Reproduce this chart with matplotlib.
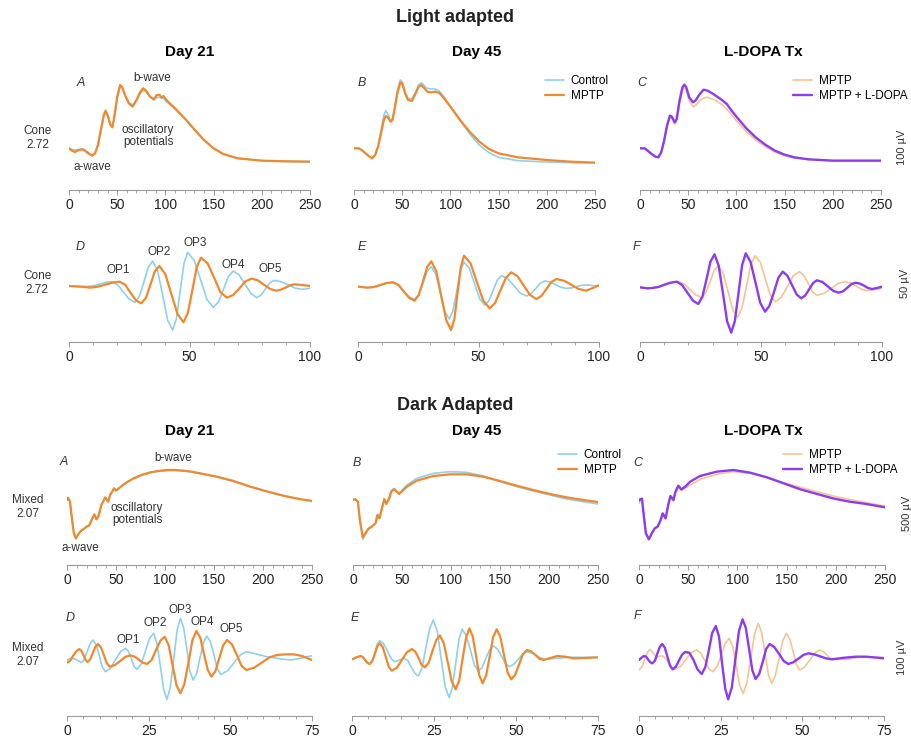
import matplotlib
matplotlib.use("Agg")
import matplotlib.pyplot as plt
from matplotlib.ticker import MultipleLocator

plt.rcParams['font.family'] = ['Liberation Sans', 'DejaVu Sans']

# colours
BLUE = '#8fd0ec'
ORANGE = '#f0892e'
PALE = '#f6c493'
PURPLE = '#8b3cf0'

# ---- Light adapted, full ERG (time ms, amplitude) ----
la_a_t = [0, 3, 6, 10, 14, 17, 20, 24, 27, 30, 33, 36, 38, 40, 43, 45, 47, 50, 53, 55, 58, 62, 66, 70, 74, 77, 80, 84,
          88, 91, 94, 96, 98, 101, 110, 120, 130, 140, 150, 160, 175, 200, 225, 250]
la_a_mptp = [0, -7, -11, -5, -3, -8, -15, -22, -15, 10, 55, 100, 113, 100, 70, 63, 95, 155, 190, 185, 160, 135, 125, 145,
             170, 180, 173, 155, 147, 160, 160, 153, 157, 145, 120, 90, 57, 25, 0, -17, -30, -37, -39, -40]
la_a_ctrl = [0, -3, -5, -4, -2, -6, -13, -20, -14, 8, 50, 93, 105, 97, 72, 65, 92, 150, 185, 182, 162, 138, 130, 145,
             165, 175, 170, 155, 145, 152, 153, 150, 150, 140, 118, 90, 57, 25, 0, -17, -30, -37, -39, -40]

la_b_t = [0, 5, 8, 12, 16, 19, 22, 25, 28, 31, 33, 35, 38, 40, 42, 45, 48, 50, 53, 56, 60, 64, 67, 70, 73, 76, 80, 84, 88,
          92, 100, 110, 120, 130, 140, 150, 170, 200, 225, 250]
la_b_mptp = [0, 0, -5, -15, -25, -30, -20, 5, 45, 85, 97, 93, 80, 85, 115, 165, 197, 195, 165, 145, 142, 165, 185, 190,
             180, 170, 168, 170, 167, 155, 125, 85, 50, 20, -2, -15, -27, -35, -40, -43]
la_b_ctrl = [0, 0, -5, -15, -25, -30, -18, 7, 55, 100, 113, 103, 83, 90, 120, 175, 205, 200, 170, 150, 148, 170, 190, 197,
             187, 180, 178, 178, 173, 160, 127, 85, 43, 10, -13, -27, -37, -41, -43, -43]

la_c_t = [0, 5, 8, 12, 16, 19, 22, 25, 28, 31, 33, 36, 38, 41, 44, 46, 48, 51, 55, 58, 62, 66, 70, 75, 80, 85, 90, 95, 100,
          110, 120, 130, 140, 150, 160, 175, 200, 225, 250]
la_c_ldopa = [0, 0, -7, -17, -25, -27, -12, 23, 68, 98, 95, 78, 88, 143, 183, 191, 183, 153, 138, 145, 163, 176, 173, 165,
              155, 145, 133, 113, 95, 61, 33, 11, -7, -19, -27, -33, -37, -37, -37]
la_c_mptp = [0, 0, -7, -17, -25, -27, -13, 21, 63, 93, 91, 73, 81, 133, 173, 181, 175, 143, 125, 130, 143, 151, 153, 148,
             141, 131, 118, 101, 83, 51, 25, 5, -11, -22, -29, -34, -37, -37, -37]

# ---- Light adapted, oscillatory potentials ----
lo_d_mptp_t = [0, 5, 9, 12, 15, 18, 21, 23.3, 25.5, 27.8, 30, 31.9, 33.8, 35.6, 37.5, 40, 42.5, 45, 47.5, 49.3, 51.2, 53,
               54.8, 57.5, 60.2, 62.8, 65.5, 68.1, 70.7, 73.2, 75.8, 78.4, 80.9, 83.5, 86, 87.9, 89.8, 91.6, 93.5, 96.8,
               100]
lo_d_mptp = [0, -2, -5, -2, 4, 10, 13, 4, -20, -43, -52, -36, 4, 44, 60, 35, -25, -84, -109, -81, -12, 57, 85, 68, 25,
             -18, -35, -27, -7, 14, 22, 17, 4, -9, -14, -11, -5, 2, 5, 3, 0]
lo_d_ctrl_t = [0, 5, 8, 10.4, 12.9, 15.3, 17.7, 20.1, 22.6, 25, 27.4, 29.2, 31.1, 32.9, 34.7, 36.8, 38.9, 40.9, 43, 44.6,
               46.1, 47.7, 49.2, 51.9, 54.6, 57.2, 59.9, 62, 64.1, 66.1, 68.2, 70.6, 73.1, 75.5, 77.9, 79.7, 81.5, 83.3,
               85.1, 88, 90.8, 93.7, 96.5, 100]
lo_d_ctrl = [0, -2, -1, 1, 6, 11, 13, 4, -18, -40, -49, -31, 13, 57, 75, 45, -29, -102, -132, -98, -16, 67, 101, 77, 19,
             -40, -64, -48, -10, 29, 45, 33, 5, -23, -35, -27, -9, 9, 17, 13, 4, -6, -10, -7]

lo_e_mptp_t = [0, 4, 6.6, 9.3, 11.9, 14.5, 16.8, 19, 21.3, 23.5, 25.2, 27, 28.7, 30.4, 32.5, 34.5, 36.6, 38.6, 40, 41.3,
               42.7, 44, 46.7, 49.3, 52, 54.6, 56.9, 59.1, 61.4, 63.6, 66.2, 68.8, 71.4, 74, 76.1, 78.2, 80.2, 82.3, 85.4,
               88.5, 91.6, 94.7, 97.4, 100]
lo_e_mptp = [0, -3, -1, 5, 11, 13, 5, -15, -34, -42, -25, 17, 59, 76, 46, -27, -100, -130, -97, -19, 60, 93, 70, 14,
             -42, -65, -49, -11, 27, 43, 31, 3, -25, -37, -28, -7, 14, 23, 18, 6, -7, -12, -4, 4]
lo_e_ctrl_t = [0, 4, 6.6, 9.3, 11.9, 14.5, 16.8, 19, 21.3, 23.5, 25.2, 27, 28.7, 30.4, 32.3, 34.2, 36, 37.9, 39.4, 41,
               42.5, 44, 46.2, 48.3, 50.5, 52.6, 54.3, 56.1, 57.8, 59.5, 62.1, 64.7, 67.3, 69.9, 71.8, 73.7, 75.6, 77.5,
               79.7, 82, 84.2, 86.4, 88.5, 90.6, 92.6, 94.7, 100]
lo_e_ctrl = [0, -3, -1, 5, 11, 13, 6, -13, -31, -38, -24, 11, 46, 60, 37, -19, -74, -97, -72, -12, 49, 74, 55, 10, -36,
             -55, -42, -11, 20, 33, 24, 3, -19, -28, -21, -6, 10, 17, 14, 6, -2, -5, -4, 0, 4, 5, 2]

lo_f_ldopa_t = [0, 3, 5, 7.6, 10.1, 12.7, 15.2, 17.4, 19.7, 21.9, 24.1, 25.8, 27.5, 29.1, 30.8, 32.5, 34.3, 36, 37.7,
                39.2, 40.7, 42.2, 43.7, 45.7, 47.7, 49.7, 51.7, 53.5, 55.4, 57.2, 59, 60.9, 62.8, 64.7, 66.6, 68.2, 69.9,
                71.5, 73.1, 75.4, 77.6, 79.9, 82.1, 83.9, 85.7, 87.4, 89.2, 90.9, 92.6, 94.2, 95.9, 98, 100]
lo_f_ldopa = [-2, -5, -4, -1, 6, 12, 15, 5, -19, -42, -52, -30, 23, 75, 97, 63, -21, -104, -138, -103, -19, 65, 100, 74,
              13, -49, -75, -57, -15, 27, 45, 33, 5, -23, -35, -27, -8, 11, 19, 14, 1, -13, -18, -14, -3, 8, 12, 9, 3,
              -4, -7, -4, 0]
lo_f_mptp_t = [0, 3, 5, 7.7, 10.5, 13.2, 15.9, 18.3, 20.7, 23.1, 25.5, 27.2, 29, 30.7, 32.4, 34.4, 36.4, 38.3, 40.3,
               42.1, 44, 45.8, 47.6, 49.7, 51.8, 53.8, 55.9, 58.4, 60.9, 63.3, 65.8, 67.6, 69.5, 71.3, 73.1, 76, 78.9,
               81.7, 84.6, 86.9, 89.2, 91.5, 93.8, 96.9, 100]
lo_f_mptp = [-2, -5, -4, -1, 6, 12, 15, 8, -9, -25, -32, -18, 16, 49, 63, 40, -15, -69, -92, -65, 1, 66, 93, 73, 24,
             -25, -45, -32, 0, 32, 45, 35, 10, -16, -26, -20, -6, 9, 15, 11, 2, -8, -12, -9, -5]

# ---- Dark adapted, full ERG ----
da_a_t = [0, 1, 3, 5, 7, 9, 11, 14, 18, 20, 23, 25, 28, 30, 32, 35, 39, 42, 44, 48, 50, 53, 57, 62, 68, 76, 85, 93, 102,
          110, 119, 127, 136, 153, 170, 187, 205, 222, 239, 250]
da_a_mptp = [0, 7, -5, -55, -100, -115, -105, -93, -85, -80, -75, -60, -43, -58, -50, -15, 8, -5, 15, 35, 28, 35, 45, 55,
             65, 75, 83, 87, 90, 90, 88, 85, 80, 70, 57, 40, 25, 12, 2, -3]
da_a_ctrl = [0, 7, -5, -55, -100, -116, -106, -93, -85, -80, -75, -60, -44, -58, -50, -16, 7, -5, 14, 34, 28, 35, 45, 54,
             64, 74, 82, 86, 88, 89, 87, 84, 79, 69, 56, 40, 25, 12, 2, -3]

da_b_t = [0, 2, 5, 7, 10, 13, 16, 19, 23, 25, 27, 30, 32, 34, 37, 39, 42, 47, 55, 65, 82, 99, 116, 133, 150, 167, 184, 201,
          218, 235, 250]
da_b_mptp = [0, 3, -5, -60, -112, -98, -85, -80, -70, -45, -55, -20, 2, -12, 5, 25, 32, 18, 40, 58, 72, 77, 77, 70, 57,
             43, 30, 18, 8, 0, -6]
da_b_ctrl = [0, 3, -5, -62, -118, -102, -87, -80, -70, -43, -53, -18, 4, -10, 8, 28, 35, 20, 45, 65, 80, 85, 83, 72, 55,
             40, 27, 15, 3, -5, -12]

da_c_t = [0, 1, 3, 5, 7, 10, 13, 16, 19, 22, 24, 27, 30, 32, 35, 37, 40, 43, 47, 52, 62, 79, 96, 113, 130, 147, 164, 181,
          197, 214, 231, 250]
da_c_ldopa = [-2, 2, 4, -50, -100, -118, -100, -85, -80, -60, -40, -55, -10, 12, 0, 25, 43, 32, 40, 55, 72, 85, 90, 82,
              68, 50, 32, 18, 5, -5, -12, -22]
da_c_mptp = [-10, -5, 0, -52, -100, -116, -100, -85, -80, -62, -43, -56, -15, 8, -3, 20, 38, 28, 35, 45, 62, 77, 85, 80,
             68, 52, 38, 25, 12, 2, -8, -18]

# ---- Dark adapted, oscillatory potentials ----
do_d_mptp_t = [0, 1, 1.9, 2.9, 3.8, 4.4, 5.1, 5.7, 6.3, 7.1, 7.9, 8.7, 9.5, 10.4, 11.3, 12.2, 13.1, 14.7, 16.3, 17.8,
               19.4, 20.7, 22, 23.2, 24.5, 25.9, 27.2, 28.6, 29.9, 31.1, 32.3, 33.5, 34.7, 35.9, 37.2, 38.4, 39.6, 40.8,
               41.9, 43.1, 44.2, 45.4, 46.6, 47.8, 49, 50.5, 52, 53.4, 54.9, 57.3, 59.6, 62, 64.3, 67, 69.4, 72, 75]
do_d_mptp = [-8, -2, 13, 27, 33, 27, 14, 0, -6, 2, 21, 40, 48, 38, 14, -10, -20, -15, -3, 9, 14, 10, 1, -8, -12, 0, 29,
             58, 70, 45, -15, -75, -100, -73, -7, 60, 87, 67, 19, -30, -50, -34, 5, 44, 60, 47, 15, -17, -30, -23, -8, 8,
             15, 17, 17, 12, 0]
do_d_ctrl_t = [0, 1.5, 3, 4.4, 5.3, 6.2, 7.1, 8, 8.9, 9.9, 10.8, 11.7, 13.3, 14.8, 16.4, 17.9, 18.8, 19.7, 20.5, 21.4,
               22.7, 24, 25.2, 26.5, 27.5, 28.6, 29.6, 30.6, 31.6, 32.7, 33.7, 34.7, 35.7, 36.7, 37.6, 38.6, 39.7, 40.7,
               41.8, 42.8, 43.9, 45, 46, 47.1, 49.1, 51.1, 53, 55, 58, 61, 65, 68.3, 71.4, 75]
do_d_ctrl = [0, 6, 0, -8, 2, 26, 50, 60, 46, 13, -21, -35, -25, 0, 25, 35, 26, 4, -19, -28, -12, 26, 64, 80, 51, -19, -89,
             -118, -83, 4, 90, 125, 98, 33, -33, -60, -41, 6, 53, 72, 55, 15, -26, -43, -33, -9, 15, 25, 18, 10, 4, 0, 5,
             13]

do_e_mptp_t = [0, 1.3, 2.6, 3.3, 4, 4.7, 5.4, 6.2, 7, 7.7, 8.5, 9.4, 10.3, 11.2, 12.1, 13.7, 15.2, 16.8, 18.3, 19.3, 20.3,
               21.2, 22.2, 23.4, 24.5, 25.7, 26.8, 28, 29.2, 30.4, 31.6, 32.7, 33.7, 34.8, 35.8, 36.8, 37.8, 38.8, 39.8,
               40.9, 42, 43, 44.1, 45.2, 46.3, 47.4, 48.5, 49.7, 50.9, 52.1, 53.3, 54.6, 55.9, 57.1, 58.4, 60.5, 62.5, 65,
               67.6, 71, 75]
do_e_mptp = [-3, 3, 7, 4, -5, -14, -17, -8, 14, 36, 45, 33, 4, -25, -37, -28, -5, 19, 28, 20, 1, -19, -27, -13, 21, 55,
             69, 45, -12, -69, -93, -66, -2, 63, 90, 66, 8, -51, -75, -51, 6, 63, 87, 65, 12, -41, -63, -50, -19, 12, 25,
             21, 10, -1, -5, 1, 7, 5, 0, 1, 3]
do_e_ctrl_t = [0, 1.3, 2.6, 3.3, 4, 4.7, 5.4, 6.2, 7, 7.7, 8.5, 9.6, 10.8, 11.9, 13, 14.5, 16, 17.1, 18.1, 19.2, 20.2,
               21.4, 22.5, 23.7, 24.8, 26, 27.2, 28.4, 29.6, 30.6, 31.6, 32.6, 33.6, 34.8, 36.1, 37.3, 38.5, 39.7, 40.8,
               42, 43.1, 44.3, 45.6, 46.8, 48, 49.3, 50.7, 52, 53.3, 55.5, 57.2, 58.9, 62, 66, 70, 75]
do_e_ctrl = [-3, 3, 7, 4, -5, -14, -17, -7, 18, 43, 53, 44, 22, -1, -10, -5, 0, -8, -27, -45, -53, -28, 31, 90, 115, 81,
             -2, -84, -118, -88, -16, 57, 87, 69, 25, -20, -38, -27, 0, 26, 37, 28, 6, -16, -25, -18, -3, 13, 20, 14, 3,
             -3, 0, 3, 3, 3]

do_f_ldopa_t = [0, 0.8, 1.5, 2.2, 2.8, 3.5, 4.1, 4.9, 5.6, 6.4, 7.1, 7.9, 8.7, 9.5, 10.3, 11.3, 12.2, 13.2, 14.1, 15.4,
                16.7, 17.9, 19.2, 20.3, 21.4, 22.4, 23.5, 24.5, 25.4, 26.4, 27.3, 28.4, 29.5, 30.6, 31.7, 32.7, 33.7,
                34.7, 35.7, 36.8, 37.9, 38.9, 40, 41.4, 42.9, 44.3, 45.7, 47.2, 48.8, 50.3, 51.8, 53.6, 55.4, 57.2, 59,
                63, 66.5, 69.6, 75]
do_f_ldopa = [-5, 2, 7, 5, -4, -12, -15, -7, 14, 35, 43, 32, 5, -22, -33, -25, -7, 11, 19, 17, -5, -33, -47, -26, 25, 76,
              97, 65, -13, -91, -123, -88, -3, 82, 117, 91, 28, -36, -62, -47, -10, 28, 43, 34, 13, -8, -17, -12, -1, 10,
              15, 12, 6, 0, -3, 2, 5, 5, 0]
do_f_mptp_t = [0, 0.9, 1.7, 2.6, 3.4, 4.4, 5.4, 6.2, 7, 8, 9, 10, 11, 12.7, 14.3, 16, 17.6, 18.9, 20.2, 21.4, 22.7, 23.9,
               25.2, 26.4, 27.6, 28.7, 29.8, 30.8, 31.9, 33, 34.2, 35.4, 36.5, 37.5, 38.6, 39.6, 40.6, 41.7, 42.9, 44,
               45.1, 46.1, 47.2, 48.2, 49.2, 50.7, 52.3, 53.8, 55.3, 56.3, 57.4, 58.4, 59.4, 63.5, 67.6, 75]
do_f_mptp = [-35, -26, -4, 18, 27, 15, 3, 6, 8, 2, -13, -27, -33, -25, -4, 17, 25, 16, -8, -31, -40, -25, 10, 45, 60, 36,
             -23, -81, -105, -74, 0, 74, 105, 79, 15, -49, -75, -53, 0, 53, 75, 59, 20, -19, -35, -26, -5, 16, 25, 21,
             11, 1, -3, -3, 3, 3]

W, H = 911, 736
fig = plt.figure(figsize=(W / 100, H / 100), dpi=100)


def px_axes(x0, x1, ytop, ybot):
    return fig.add_axes([x0 / W, 1 - ybot / H, (x1 - x0) / W, (ybot - ytop) / H])


def ftext(x, y, s, **kw):
    fig.text(x / W, 1 - y / H, s, **kw)


def style(ax, xmax, major, minor, ylim):
    ax.set_xlim(0, xmax)
    ax.set_ylim(*ylim)
    for s in ['top', 'right', 'left']:
        ax.spines[s].set_visible(False)
    ax.spines['bottom'].set_color('#9a9a9a')
    ax.spines['bottom'].set_linewidth(0.8)
    ax.set_yticks([])
    ax.xaxis.set_major_locator(MultipleLocator(major))
    ax.xaxis.set_minor_locator(MultipleLocator(minor))
    ax.tick_params(axis='x', which='major', length=3.5, width=0.7, color='#9a9a9a', labelsize=10,
                   labelcolor='#222222', pad=2)
    ax.tick_params(axis='x', which='minor', length=2, width=0.6, color='#9a9a9a')
    ax.patch.set_alpha(0)


def legend(ax, x, y):
    ax.legend(loc='upper left', bbox_to_anchor=(x / W, 1 - y / H), bbox_transform=fig.transFigure, frameon=False,
              fontsize=8.5, handlelength=1.6, handletextpad=0.6, labelspacing=0.25, borderaxespad=0)


lw_o, lw_b, lw_p = 1.6, 1.2, 1.7
kw_line = dict(solid_joinstyle='round', solid_capstyle='round')

# row 1
ax = px_axes(69, 310, 65, 190)
ax.plot(la_a_t, la_a_ctrl, color=BLUE, lw=lw_b, **kw_line)
ax.plot(la_a_t, la_a_mptp, color=ORANGE, lw=lw_o, **kw_line)
style(ax, 250, 50, 10, (-125, 250))
ax = px_axes(354, 595, 65, 190)
ax.plot(la_b_t, la_b_ctrl, color=BLUE, lw=lw_b, label='Control', **kw_line)
ax.plot(la_b_t, la_b_mptp, color=ORANGE, lw=lw_o, label='MPTP', **kw_line)
style(ax, 250, 50, 10, (-125, 250))
legend(ax, 540, 70)
ax = px_axes(640, 881, 65, 190)
ax.plot(la_c_t, la_c_mptp, color=PALE, lw=lw_b, label='MPTP', **kw_line)
ax.plot(la_c_t, la_c_ldopa, color=PURPLE, lw=lw_p, label='MPTP + L-DOPA', **kw_line)
style(ax, 250, 50, 10, (-125, 250))
legend(ax, 788, 70)

# row 2
ax = px_axes(69, 310, 235, 342)
ax.plot(lo_d_ctrl_t, lo_d_ctrl, color=BLUE, lw=lw_b, **kw_line)
ax.plot(lo_d_mptp_t, lo_d_mptp, color=ORANGE, lw=lw_o, **kw_line)
style(ax, 100, 50, 10, (-168, 153))
ax = px_axes(358, 599, 235, 342)
ax.plot(lo_e_ctrl_t, lo_e_ctrl, color=BLUE, lw=lw_b, **kw_line)
ax.plot(lo_e_mptp_t, lo_e_mptp, color=ORANGE, lw=lw_o, **kw_line)
style(ax, 100, 50, 10, (-166, 155))
ax = px_axes(640, 882, 235, 342)
ax.plot(lo_f_mptp_t, lo_f_mptp, color=PALE, lw=lw_b, **kw_line)
ax.plot(lo_f_ldopa_t, lo_f_ldopa, color=PURPLE, lw=lw_p, **kw_line)
style(ax, 100, 50, 10, (-166, 155))

# row 3
ax = px_axes(67, 312, 440, 565)
ax.plot(da_a_t, da_a_ctrl, color=BLUE, lw=lw_b, **kw_line)
ax.plot(da_a_t, da_a_mptp, color=ORANGE, lw=lw_o, **kw_line)
style(ax, 250, 50, 10, (-195, 180))
ax = px_axes(353, 598, 440, 565)
ax.plot(da_b_t, da_b_ctrl, color=BLUE, lw=lw_b, label='Control', **kw_line)
ax.plot(da_b_t, da_b_mptp, color=ORANGE, lw=lw_o, label='MPTP', **kw_line)
style(ax, 250, 50, 10, (-195, 180))
legend(ax, 553, 444)
ax = px_axes(639, 885, 440, 565)
ax.plot(da_c_t, da_c_mptp, color=PALE, lw=lw_b, label='MPTP', **kw_line)
ax.plot(da_c_t, da_c_ldopa, color=PURPLE, lw=lw_p, label='MPTP + L-DOPA', **kw_line)
style(ax, 250, 50, 10, (-195, 180))
legend(ax, 778, 444)

# row 4
ax = px_axes(67, 312, 600, 716)
ax.plot(do_d_ctrl_t, do_d_ctrl, color=BLUE, lw=lw_b, **kw_line)
ax.plot(do_d_mptp_t, do_d_mptp, color=ORANGE, lw=lw_o, **kw_line)
style(ax, 75, 25, 5, (-168, 180))
ax = px_axes(352, 598, 600, 716)
ax.plot(do_e_ctrl_t, do_e_ctrl, color=BLUE, lw=lw_b, **kw_line)
ax.plot(do_e_mptp_t, do_e_mptp, color=ORANGE, lw=lw_o, **kw_line)
style(ax, 75, 25, 5, (-173, 175))
ax = px_axes(639, 884, 600, 716)
ax.plot(do_f_mptp_t, do_f_mptp, color=PALE, lw=lw_b, **kw_line)
ax.plot(do_f_ldopa_t, do_f_ldopa, color=PURPLE, lw=lw_p, **kw_line)
style(ax, 75, 25, 5, (-173, 175))

# titles
ftext(455, 18, 'Light adapted', ha='center', va='center', fontsize=13, fontweight='bold', color='#222222')
ftext(455, 405, 'Dark Adapted', ha='center', va='center', fontsize=13, fontweight='bold', color='#222222')
for y in (52, 431):
    ftext(190, y, 'Day 21', ha='center', va='center', fontsize=11, fontweight='bold')
    ftext(477, y, 'Day 45', ha='center', va='center', fontsize=11, fontweight='bold')
    ftext(763, y, 'L-DOPA Tx', ha='center', va='center', fontsize=11, fontweight='bold')

# panel letters
it = dict(ha='center', va='center', fontsize=9, style='italic', color='#333333')
for s, x, y in [('A', 81, 83), ('B', 362, 83), ('C', 642, 83), ('D', 80, 247), ('E', 362, 247), ('F', 636, 247),
                ('A', 64, 462), ('B', 357, 463), ('C', 638, 463), ('D', 70, 618), ('E', 355, 618), ('F', 637, 616)]:
    ftext(x, y, s, **it)

# annotations
an = dict(ha='center', va='center', fontsize=8.5, color='#333333')
ftext(152, 78, 'b-wave', **an)
ftext(148, 136, 'oscillatory\npotentials', linespacing=1.1, **an)
ftext(92, 167, 'a-wave', **an)
ftext(173, 458, 'b-wave', **an)
ftext(137, 514, 'oscillatory\npotentials', linespacing=1.1, **an)
ftext(80, 548, 'a-wave', **an)
for s, x, y in [('OP1', 118, 270), ('OP2', 159, 252), ('OP3', 195, 243), ('OP4', 233, 265), ('OP5', 270, 269),
                ('OP1', 128, 640), ('OP2', 155, 623), ('OP3', 180, 610), ('OP4', 202, 622), ('OP5', 231, 629)]:
    ftext(x, y, s, **an)

# stimulus labels
ftext(38, 138, 'Cone\n2.72', linespacing=1.3, **an)
ftext(37, 283, 'Cone\n2.72', linespacing=1.3, **an)
ftext(28, 507, 'Mixed\n2.07', linespacing=1.3, **an)
ftext(28, 655, 'Mixed\n2.07', linespacing=1.3, **an)

# amplitude labels
sc = dict(ha='center', va='center', fontsize=8, rotation=90, color='#333333')
ftext(902, 147, '100 µV', **sc)
ftext(905, 283, '50 µV', **sc)
ftext(907, 513, '500 µV', **sc)
ftext(902, 657, '100 µV', **sc)

fig.savefig('out.png', dpi=100)
